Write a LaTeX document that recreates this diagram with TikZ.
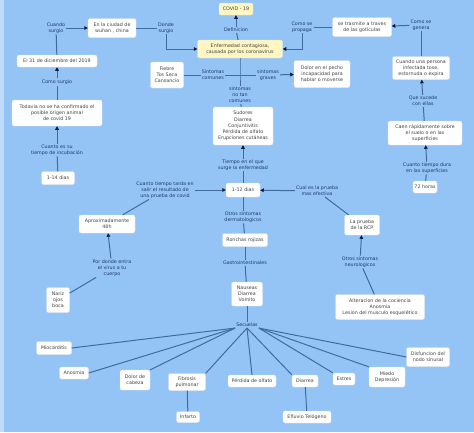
\documentclass[tikz,border=0pt]{standalone}
\usepackage{fontspec}
\setmainfont{DejaVu Sans}
\usetikzlibrary{arrows.meta}
\definecolor{bg}{HTML}{94C4F6}
\definecolor{lc}{HTML}{3F6C9C}
\definecolor{lt}{HTML}{1E3A6E}
\definecolor{yb}{HTML}{FFF6C2}
\definecolor{bt}{HTML}{444444}
\definecolor{tipc}{HTML}{0A1A3A}
\begin{document}
\begin{tikzpicture}[x=1pt,y=-1pt,
 box/.style={fill=white, draw=black!12, line width=0.3pt, rounded corners=2pt, align=center, font=\fontsize{4.8}{6.2}\selectfont, text=bt, inner sep=1.5pt},
 ybox/.style={box, fill=yb},
 lbl/.style={align=center, font=\fontsize{4.8}{5.9}\selectfont, text=lt, inner sep=1pt},
 conn/.style={draw=lc, line width=1pt},
 arr/.style={conn, -{Triangle[length=3.6pt,width=3.6pt,color=tipc]}},
]
\useasboundingbox (0,0) rectangle (474,432);
\fill[bg] (0,0) rectangle (474,432);
\fill[bg!60!white] (0,0) rectangle (3.5,432);

% top
\node[ybox, minimum width=34, minimum height=12] (covid) at (236,9) {COVID - 19};
\node[lbl] (def) at (236,30) {Definicion};
\node[ybox, minimum width=85, minimum height=18] (enf) at (240,49) {Enfermedad contagiosa,\\causada por los coronavirus};
\draw[arr] (def) -- (covid);
\draw[conn] (enf) -- (def);

\node[lbl] (donde) at (166,28) {Donde\\surgio};
\node[box, minimum width=48, minimum height=19] (wuhan) at (112,28) {En la ciudad de\\wuhan , china};
\node[lbl] (cuando) at (56,28) {Cuando\\surgio};
\draw[arr] (cuando) -- (wuhan);
\draw[conn] (wuhan) -- (donde);
\draw[arr] (donde.south) |- (enf.west);

\node[lbl] (propaga) at (302,27) {Como se\\propaga};
\draw[arr] (propaga.south) |- (enf.east);
\node[box, minimum width=59, minimum height=19] (gotas) at (362,27) {se trasmite a traves\\de las gotículas};
\draw[conn] (propaga) -- (gotas);
\node[lbl] (genera) at (421,25) {Como se\\genera};
\draw[arr] (genera) -- (gotas);
\node[box, minimum width=57, minimum height=23] (tose) at (421,68) {Cuando una persona\\infectada tose,\\estornuda o expira};
\draw[conn] (tose) -- (genera);
\node[lbl] (sucede) at (423,101) {Que sucede\\con ellas};
\draw[arr] (sucede) -- (tose);
\node[box, minimum width=74, minimum height=24] (caen) at (425,133) {Caen rápidamente sobre\\el suelo o en las\\superficies};
\draw[conn] (caen) -- (sucede);
\node[lbl] (dura) at (427,168) {Cuanto tiempo dura\\en las superficies};
\draw[arr] (dura) -- (caen);
\node[box, minimum width=24, minimum height=12] (h72) at (425,187) {72 horas};
\draw[conn] (h72) -- (dura);

% left column
\node[box, minimum width=80, minimum height=12] (dic) at (57,61) {El 31 de diciembre del 2019};
\draw[conn] (dic) -- (cuando);
\node[lbl] (comosurgio) at (57,82) {Como surgio};
\draw[arr] (comosurgio) -- (dic);
\node[box, minimum width=90, minimum height=26] (origen) at (57,113) {Todavia no se ha confirmado el\\posible origen animal\\de covid 19};
\draw[conn] (origen) -- (comosurgio);
\node[lbl] (incub) at (57,150) {Cuanto es su\\tiempo de incubación};
\draw[arr] (incub) -- (origen);
\node[box, minimum width=33, minimum height=13] (d14) at (58,178) {1-14 dias};
\draw[conn] (d14) -- (incub);

% symptoms
\node[box, minimum width=33, minimum height=26] (fiebre) at (167,75) {Fiebre\\Tos Seca\\Cansancio};
\node[lbl] (comunes) at (213,75) {Sintomas\\comunes};
\node[lbl] (graves) at (268,75) {sintomas\\graves};
\node[lbl] (notan) at (240,95) {sintomas\\no tan\\comunes};
\node[box, minimum width=56, minimum height=27] (dolor) at (322,74) {Dolor en el pecho\\incapacidad para\\hablar o moverse};
\node[box, minimum width=60, minimum height=38] (sudores) at (243,126) {Sudores\\Diarrea\\Conjuntivitis\\Pérdida de olfato\\Erupciones cutáneas};
\coordinate (jn) at (240,75);
\draw[conn] (enf.south) -- (jn) -- (notan);
\draw[conn] (jn) -- (comunes);
\draw[conn] (comunes) -- (fiebre);
\draw[conn] (jn) -- (graves);
\draw[arr] (graves) -- (dolor);
\draw[conn] (notan) -- (sudores);

\node[lbl] (surge) at (243,165) {Tiempo en el que\\surge la enfermedad};
\draw[arr] (surge) -- (sudores);
\node[box, minimum width=34, minimum height=14] (d12) at (243,190) {1-12 dias};
\draw[conn] (d12) -- (surge);

\node[lbl] (tarda) at (165,190) {Cuanto tiempo tarda en\\salir el resultado de\\una prueba de covid};
\draw[arr] (tarda) -- (d12);
\node[box, minimum width=56, minimum height=18] (h48) at (107,224) {Aproximadamente\\48h};
\draw[conn] (tarda) -- (h48);
\node[lbl] (entra) at (112,268) {Por donde entra\\el virus a tu\\cuerpo};
\draw[arr] (entra) -- (h48);
\node[box, minimum width=23, minimum height=25] (nariz) at (58,300) {Nariz\\ojos\\boca};
\draw[conn] (entra) -- (nariz);

\node[lbl] (efectiva) at (317,191) {Cual es la prueba\\mas efectiva};
\draw[arr] (efectiva) -- (d12);
\node[box, minimum width=35, minimum height=20] (rcp) at (362,225) {La prueba\\de la RCP};
\draw[conn] (efectiva) -- (rcp);
\node[lbl] (neuro) at (360,262) {Otros sintomas\\neurologicos};
\draw[arr] (neuro) -- (rcp);
\node[box, minimum width=89, minimum height=25] (alter) at (380,307) {Alteracion de la cociencia\\Anosmia\\Lesion del musculo esquelético};
\draw[conn] (neuro) -- (alter);

\node[lbl] (derma) at (243,217) {Otros sintomas\\dermatologicos};
\draw[conn] (d12) -- (derma);
\node[box, minimum width=45, minimum height=13] (ronchas) at (245,240) {Ronchas rojizas};
\draw[conn] (derma) -- (ronchas);
\node[lbl] (gastro) at (245,263) {Gastrointestinales};
\draw[conn] (ronchas) -- (gastro);
\node[box, minimum width=31, minimum height=24] (nauseas) at (247,294) {Nauseas\\Diarrea\\Vomito};
\draw[conn] (gastro) -- (nauseas);
\node[lbl] (secuelas) at (247,325) {Secuelas};
\draw[conn] (nauseas) -- (secuelas);

% sequelae
\node[box, minimum width=35, minimum height=13] (miocard) at (54,348) {Miocarditis};
\node[box, minimum width=29, minimum height=12] (anosmia) at (74,373) {Anosmia};
\node[box, minimum width=30, minimum height=20] (cabeza) at (135,380) {Dolor de\\cabeza};
\node[box, minimum width=37, minimum height=17] (fibrosis) at (187,382) {Fibrosis\\pulmonar};
\node[box, minimum width=23, minimum height=11] (infarto) at (188,417) {Infarto};
\node[box, minimum width=48, minimum height=12] (olfato) at (252,381) {Pérdida de olfato};
\node[box, minimum width=26, minimum height=12] (dianza) at (305,381) {Diarrea};
\node[box, minimum width=48, minimum height=12] (efluvio) at (307,417) {Efluvio Telógeno};
\node[box, minimum width=22, minimum height=12] (estres) at (344,379) {Estres};
\node[box, minimum width=36, minimum height=20] (miedo) at (387,377) {Miedo\\Depresión};
\node[box, minimum width=43, minimum height=19] (nodo) at (428,357) {Disfuncion del\\nodo sinusal};

\draw[conn] (secuelas.south west) -- (miocard.east);
\draw[conn] (secuelas.south west) -- (anosmia.east);
\draw[conn] (secuelas.south west) -- (cabeza.north east);
\draw[conn] (secuelas.south) -- (fibrosis.north east);
\draw[conn] (secuelas.south) -- (olfato.north);
\draw[conn] (secuelas.south) -- (dianza.north west);
\draw[conn] (secuelas.south east) -- (estres.north west);
\draw[conn] (secuelas.south east) -- (miedo.north west);
\draw[conn] (secuelas.south east) -- (nodo.west);
\draw[conn] (fibrosis) -- (infarto);
\draw[conn] (dianza) -- (efluvio);
\end{tikzpicture}
\end{document}
